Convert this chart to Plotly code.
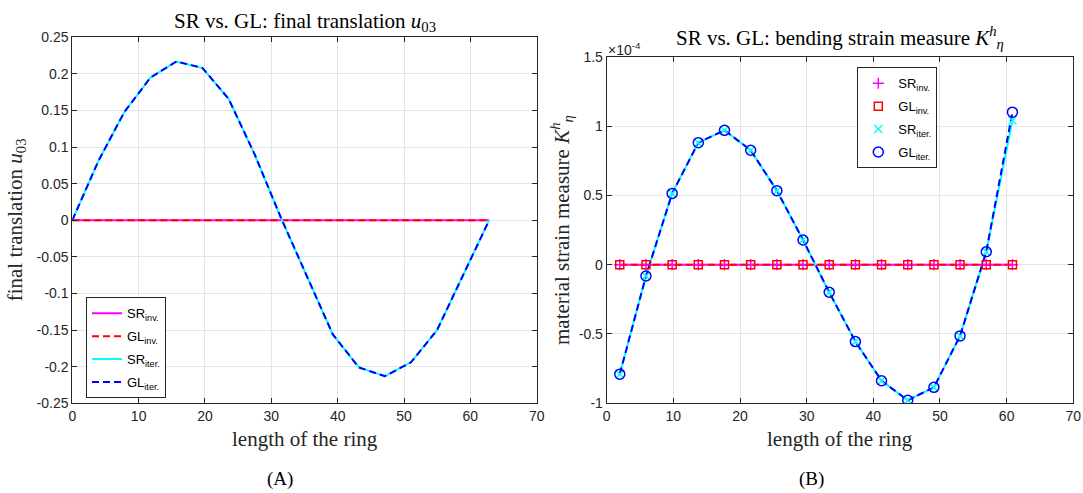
import plotly.graph_objects as go

W, H = 1083, 493

# ---------------- data ----------------
s_nodes = [0, 3.93, 7.85, 11.78, 15.71, 19.63, 23.56, 27.49, 31.42, 35.34,
           39.27, 43.20, 47.12, 51.05, 54.98, 58.90, 62.83]
u03_sr_inv = [0] * 17
u03_gl_inv = [0] * 17
u03_sr_iter = [0, 0.081, 0.148, 0.195, 0.217, 0.208, 0.166, 0.090, 0.004, -0.077,
               -0.156, -0.201, -0.213, -0.194, -0.150, -0.075, 0]
u03_gl_iter = [0, 0.081, 0.148, 0.195, 0.217, 0.208, 0.166, 0.090, 0.004, -0.077,
               -0.156, -0.201, -0.213, -0.194, -0.150, -0.075, 0]

s_mid = [1.96, 5.89, 9.82, 13.74, 17.67, 21.60, 25.53, 29.45, 33.38, 37.31,
         41.23, 45.16, 49.09, 53.01, 56.94, 60.87]
# bending strain values in units of 1e-4
K_sr_inv = [0] * 16
K_gl_inv = [0] * 16
K_sr_iter = [-0.79, -0.082, 0.514, 0.880, 0.969, 0.825, 0.534, 0.178, -0.199, -0.555,
             -0.837, -0.978, -0.885, -0.514, 0.093, 1.04]
K_gl_iter = [-0.79, -0.082, 0.514, 0.880, 0.969, 0.825, 0.534, 0.178, -0.199, -0.555,
             -0.837, -0.978, -0.885, -0.514, 0.093, 1.100]

x_ticks = [0, 10, 20, 30, 40, 50, 60, 70]
yA_ticks = [-0.25, -0.2, -0.15, -0.1, -0.05, 0, 0.05, 0.1, 0.15, 0.2, 0.25]
yA_labels = ["-0.25", "-0.2", "-0.15", "-0.1", "-0.05", "0", "0.05", "0.1", "0.15", "0.2", "0.25"]
yB_ticks = [-1, -0.5, 0, 0.5, 1, 1.5]
yB_labels = ["-1", "-0.5", "0", "0.5", "1", "1.5"]

names = ["SR<sub>inv.</sub>", "GL<sub>inv.</sub>", "SR<sub>iter.</sub>", "GL<sub>iter.</sub>"]

MAG, RED, CYA, BLU = "rgb(255,0,255)", "rgb(255,0,0)", "rgb(0,255,255)", "rgb(0,0,255)"
DASH = "7px,4px"
AX = "#262626"

fig = go.Figure()

# ---------------- panel A ----------------
a_specs = [(u03_sr_inv, MAG, None), (u03_gl_inv, RED, DASH), (u03_sr_iter, CYA, None), (u03_gl_iter, BLU, DASH)]
for i, ((vals, col, dash), nm) in enumerate(zip(a_specs, names)):
    fig.add_trace(go.Scatter(x=s_nodes, y=vals, mode="lines", name=nm, legendgroup=f"a{i}",
                             line=dict(color=col, width=2, dash=dash),
                             xaxis="x", yaxis="y", legend="legend"))

# ---------------- panel B ----------------
line_specs = [(K_sr_inv, MAG, None), (K_gl_inv, RED, DASH), (K_sr_iter, CYA, None), (K_gl_iter, BLU, DASH)]
for vals, col, dash in line_specs:
    fig.add_trace(go.Scatter(x=s_mid, y=vals, mode="lines", showlegend=False, hoverinfo="skip",
                             line=dict(color=col, width=2, dash=dash), xaxis="x2", yaxis="y2"))

marker_specs = [
    (K_sr_inv, dict(symbol="cross-thin", size=8, line=dict(color=MAG, width=1.5), color=MAG)),
    (K_gl_inv, dict(symbol="square-open", size=8, line=dict(color=RED, width=1.5), color=RED)),
    (K_sr_iter, dict(symbol="x-thin", size=8, line=dict(color=CYA, width=1.5), color=CYA)),
    (K_gl_iter, dict(symbol="circle-open", size=10, line=dict(color=BLU, width=1.5), color=BLU)),
]
for i, ((vals, mk), nm) in enumerate(zip(marker_specs, names)):
    fig.add_trace(go.Scatter(x=s_mid, y=vals, mode="markers", name=nm, marker=mk,
                             legendgroup=f"b{i}", xaxis="x2", yaxis="y2", legend="legend2"))

def px_x(p):
    return p / W

def px_y(p):
    return 1 - p / H

axis_common = dict(showline=True, linecolor=AX, linewidth=1, mirror="allticks",
                   ticks="inside", ticklen=5, tickcolor=AX, tickwidth=1, automargin=False,
                   showgrid=True, gridcolor="#e5e5e5", gridwidth=1, zeroline=False,
                   tickfont=dict(family="Liberation Sans", size=14, color=AX))

legend_common = dict(xanchor="left", yanchor="top", bordercolor=AX, borderwidth=1, bgcolor="white",
                     font=dict(family="Liberation Sans", size=13, color="black"),
                     itemwidth=30, tracegroupgap=3, traceorder="grouped")

fig.update_layout(
    width=W, height=H, margin=dict(l=0, r=0, t=0, b=0),
    paper_bgcolor="white", plot_bgcolor="white",
    xaxis=dict(domain=[px_x(72.3), px_x(536.7)], range=[0, 70], tickvals=x_ticks,
               anchor="y", **axis_common),
    yaxis=dict(domain=[px_y(403.3), px_y(37.3)], range=[-0.25, 0.25], tickvals=yA_ticks,
               ticktext=yA_labels, anchor="x", **axis_common),
    xaxis2=dict(domain=[px_x(606.7), px_x(1073.3)], range=[0, 70], tickvals=x_ticks,
                anchor="y2", **axis_common),
    yaxis2=dict(domain=[px_y(403.3), px_y(56.7)], range=[-1, 1.5], tickvals=yB_ticks,
                ticktext=yB_labels, anchor="x2", **axis_common),
    legend=dict(x=px_x(86), y=px_y(297.3), **legend_common),
    legend2=dict(x=px_x(857.3), y=px_y(67.3), **legend_common),
    showlegend=True,
)

SERIF = "Liberation Serif"
ann = [
    dict(text="SR vs. GL: final translation <i>u</i><sub>03</sub>", x=px_x(304.5), y=px_y(22),
         size=21, color="black"),
    dict(text="SR vs. GL: bending strain measure <i>K</i><sup><i>h</i></sup><sub><i>η</i></sub>",
         x=px_x(840), y=px_y(37), size=21, color="black"),
    dict(text="length of the ring", x=px_x(304.5), y=px_y(439), size=21, color=AX),
    dict(text="length of the ring", x=px_x(840), y=px_y(439), size=21, color=AX),
    dict(text="(A)", x=px_x(280), y=px_y(479), size=19, color="black"),
    dict(text="(B)", x=px_x(811), y=px_y(479), size=19, color="black"),
]
for a in ann:
    fig.add_annotation(text=a["text"], x=a["x"], y=a["y"], xref="paper", yref="paper",
                       xanchor="center", yanchor="middle", showarrow=False,
                       font=dict(family=SERIF, size=a["size"], color=a["color"]))

fig.add_annotation(text="final translation <i>u</i><sub>03</sub>", x=px_x(16), y=px_y(220.3),
                   xref="paper", yref="paper", xanchor="center", yanchor="middle",
                   textangle=-90, showarrow=False,
                   font=dict(family=SERIF, size=21, color=AX))
fig.add_annotation(text="material strain measure <i>K</i><sup><i>h</i></sup><sub><i>η</i></sub>",
                   x=px_x(562), y=px_y(230), xref="paper", yref="paper",
                   xanchor="center", yanchor="middle", textangle=-90, showarrow=False,
                   font=dict(family=SERIF, size=21, color=AX))
fig.add_annotation(text="×10<sup>-4</sup>", x=px_x(606), y=px_y(49), xref="paper", yref="paper",
                   xanchor="left", yanchor="middle", showarrow=False,
                   font=dict(family="Liberation Sans", size=14, color=AX))

fig.write_html("out.html", config={"displayModeBar": False},
               post_script="document.body.style.margin='0px';")
